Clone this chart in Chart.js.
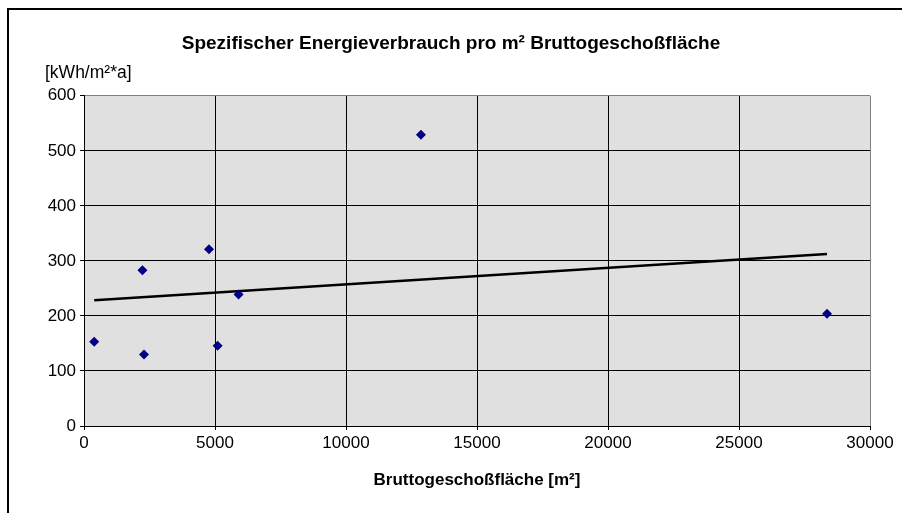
<!DOCTYPE html>
<html>
<head>
<meta charset="utf-8">
<script src="https://cdn.jsdelivr.net/npm/chart.js@4"></script>
<style>
  html, body { margin: 0; padding: 0; background: #fff; }
  #wrap { width: 902px; height: 513px; }
</style>
</head>
<body>
<div id="wrap"><canvas id="myChart" width="902" height="513"></canvas></div>
<script>
// data
const chartTitle = 'Spezifischer Energieverbrauch pro m² Bruttogeschoßfläche';
const yUnitLabel = '[kWh/m²*a]';
const xAxisTitle = 'Bruttogeschoßfläche [m²]';
const areaM2 = [390, 2230, 2290, 4770, 5100, 5900, 12860, 28360];
const energyKwh = [153, 283, 130, 321, 146, 239, 529, 204];

// linear trend (least squares) over the points
function trend_line(xs, ys) {
    const n = xs.length;
    const mx = xs.reduce((a, b) => a + b, 0) / n;
    const my = ys.reduce((a, b) => a + b, 0) / n;
    let sxy = 0, sxx = 0;
    for (let i = 0; i < n; i++) {
        sxy += (xs[i] - mx) * (ys[i] - my);
        sxx += (xs[i] - mx) * (xs[i] - mx);
    }
    const slope = sxy / sxx;
    const icpt = my - slope * mx;
    const x0 = Math.min(...xs), x1 = Math.max(...xs);
    return [{x: x0, y: icpt + slope * x0}, {x: x1, y: icpt + slope * x1}];
}

const points = areaM2.map((x, i) => ({x: x, y: energyKwh[i]}));
const FONT = '"Liberation Sans", Arial, sans-serif';

// gray plot background, frame and the unit label
const decor = {
    id: 'decor',
    beforeDraw(chart) {
        const {ctx, chartArea: a} = chart;
        ctx.save();
        ctx.fillStyle = '#e0e0e0';
        ctx.fillRect(a.left, a.top, a.right - a.left, a.bottom - a.top);
        ctx.restore();
    },
    afterDraw(chart) {
        const ctx = chart.ctx;
        ctx.save();
        ctx.fillStyle = '#000';
        ctx.fillRect(7, 8, 895, 2);
        ctx.fillRect(7, 8, 2, 505);
        ctx.font = '17.5px ' + FONT;
        ctx.textBaseline = 'middle';
        ctx.textAlign = 'left';
        ctx.fillText(yUnitLabel, 45, 73);
        ctx.restore();
    }
};

const ctx = document.getElementById('myChart').getContext('2d');
new Chart(ctx, {
    type: 'scatter',
    data: {
        datasets: [{
            label: 'Werte',
            data: points,
            pointStyle: 'rectRot',
            pointRadius: 5,
            pointHoverRadius: 5,
            backgroundColor: '#000080',
            borderColor: '#000080',
            borderWidth: 0,
            order: 1
        }, {
            type: 'line',
            label: 'Trend',
            data: trend_line(areaM2, energyKwh),
            borderColor: '#000',
            borderWidth: 2.5,
            pointRadius: 0,
            fill: false,
            order: 2
        }]
    },
    options: {
        responsive: false,
        animation: false,
        layout: {padding: {left: 32, right: 32, top: 0, bottom: 0}},
        plugins: {
            legend: {display: false},
            tooltip: {enabled: false},
            title: {
                display: true,
                text: chartTitle,
                color: '#000',
                font: {family: FONT, size: 19, weight: 'bold'},
                padding: {top: 32, bottom: 41}
            }
        },
        scales: {
            x: {
                type: 'linear',
                min: 0,
                max: 30000,
                afterFit: s => { s.height = 87; },
                ticks: {
                    stepSize: 5000,
                    color: '#000',
                    padding: 3,
                    maxRotation: 0,
                    font: {family: FONT, size: 17},
                    callback: v => String(v)
                },
                grid: {
                    color: c => c.tick && c.tick.value === 30000 ? '#808080' : '#000',
                    tickColor: '#000',
                    tickLength: 4
                },
                border: {color: '#000', width: 1},
                title: {
                    display: true,
                    text: xAxisTitle,
                    color: '#000',
                    font: {family: FONT, size: 17, weight: 'bold'},
                    padding: {top: 0, bottom: 22}
                }
            },
            y: {
                min: 0,
                max: 600,
                afterFit: s => { s.width = 52; },
                ticks: {
                    stepSize: 100,
                    color: '#000',
                    padding: 4,
                    font: {family: FONT, size: 17}
                },
                grid: {
                    color: c => c.tick && c.tick.value === 600 ? '#808080' : '#000',
                    tickColor: '#000',
                    tickLength: 4
                },
                border: {color: '#000', width: 1}
            }
        }
    },
    plugins: [decor]
});
</script>
</body>
</html>
